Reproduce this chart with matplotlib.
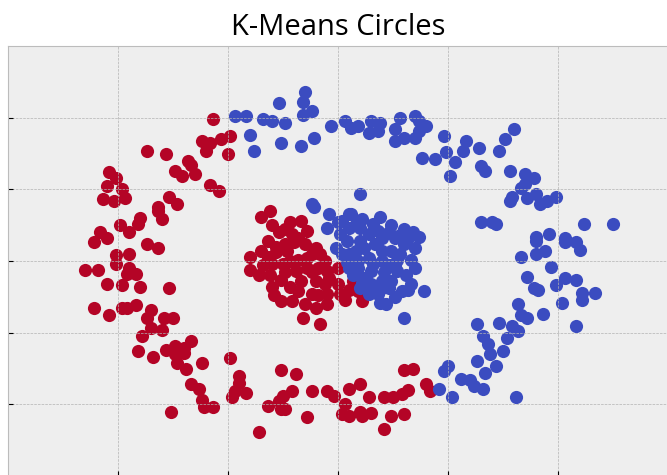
import matplotlib
matplotlib.use("Agg")
import matplotlib.pyplot as plt

plt.style.use("bmh")

# outer ring / inner blob, left cluster (red)
red_x = [-0.57, -0.87, -0.78, -0.68, -0.67, -0.74, -0.71, -0.65, -0.62, -0.60, -0.58,
         -1.04, -1.01, -1.05, -0.98, -0.97, -1.07, -1.02, -0.77, -0.73, -0.82, -0.58,
         -0.53, -0.49, -0.50, -0.54,
         -0.82, -0.80, -0.90, -0.91, -0.99, -0.95, -1.08, -1.05, -1.11, -0.87, -0.82,
         -1.01, -0.95, -1.01, -1.15, -1.09, -0.95, -0.96, -0.92, -1.05, -0.98, -0.90,
         -0.77, -1.11, -1.04, -0.98, -0.92, -0.96, -0.85, -0.87, -0.79, -0.75,
         -0.85, -0.80, -0.89, -0.91, -0.84, -0.78, -0.74, -0.74, -0.70, -0.67, -0.70,
         -0.73, -0.69, -0.62, -0.67, -0.63, -0.62, -0.61, -0.57, -0.76,
         -0.49, -0.45, -0.45, -0.47, -0.48, -0.42, -0.26, -0.19, -0.21, -0.25, -0.27,
         -0.32, -0.26, -0.24, -0.12, -0.05, -0.02, 0.05, 0.03, 0.02, 0.05, -0.14, -0.36,
         0.30, 0.34, 0.10, 0.14, 0.21, 0.25, 0.29, 0.32, 0.40, 0.42, 0.10, 0.15, 0.11,
         0.24, 0.30, 0.21,
         -0.35, -0.31, -0.17, -0.24, -0.27, -0.21, -0.14, -0.32, -0.35, -0.40, -0.28,
         -0.24, -0.20, -0.15, -0.10, -0.08, -0.18, -0.14, -0.30, -0.25, -0.36, -0.31,
         -0.26, -0.19, -0.14, -0.09, -0.05, 0.00, -0.17, -0.10, -0.06, 0.00, -0.18,
         -0.12, -0.05, 0.01, -0.29, -0.21, -0.15, -0.10, -0.16, -0.08,
         0.07, 0.09, 0.11, 0.05, -0.23, -0.34, -0.09,
         -0.30, -0.22, -0.28, -0.18, -0.32, -0.22, -0.06, -0.30, -0.22, -0.12, -0.04,
         -0.24, -0.40, -0.12, -0.26, -0.05, 0.03]
red_y = [0.99, 0.77, 0.75, 0.70, 0.67, 0.63, 0.59, 0.61, 0.84, 0.77, 0.82,
         0.62, 0.58, 0.52, 0.50, 0.44, 0.43, 0.42, 0.45, 0.40, 0.38, 0.53,
         0.85, 0.87, 0.75, 0.49,
         0.35, 0.29, 0.30, 0.26, 0.25, 0.20, 0.20, 0.16, 0.13, 0.12, 0.09,
         0.04, 0.05, -0.02, -0.06, -0.06, -0.05, -0.09, -0.09, -0.16, -0.17, -0.18,
         -0.19, -0.33, -0.38, -0.33, -0.31, -0.33, -0.34, -0.40, -0.40, -0.40,
         -0.47, -0.48, -0.52, -0.63, -0.67, -0.62, -0.59, -0.65, -0.64, -0.56, -0.61,
         -0.71, -0.75, -0.71, -0.86, -0.89, -0.97, -1.02, -1.02, -1.05,
         -0.68, -0.80, -0.85, -0.91, -0.95, -0.92, -0.76, -0.79, -0.91, -0.94, -0.98,
         -1.01, -1.03, -1.03, -0.91, -0.91, -0.94, -0.89, -1.00, -1.07, -1.08, -1.09, -1.19,
         -0.76, -0.75, -0.86, -0.95, -0.95, -0.95, -0.93, -0.90, -0.86, -0.91, -1.05, -1.06, -1.08,
         -1.08, -1.07, -1.17,
         0.31, 0.35, 0.28, 0.22, 0.20, 0.19, 0.21, 0.14, 0.07, 0.03, 0.06,
         0.12, 0.13, 0.12, 0.09, 0.05, 0.01, 0.02, -0.02, -0.02, -0.10, -0.10,
         -0.13, -0.07, -0.05, -0.05, -0.07, -0.05, -0.14, -0.14, -0.16, -0.16, -0.21,
         -0.23, -0.23, -0.23, -0.24, -0.28, -0.30, -0.33, -0.40, -0.44,
         -0.14, -0.21, -0.28, -0.20, 0.07, -0.03, -0.24,
         0.25, 0.27, 0.10, 0.16, 0.03, 0.00, 0.00, -0.18, -0.18, -0.08, -0.12,
         -0.08, -0.06, 0.05, -0.28, -0.30, -0.27]

# right cluster (blue)
blue_x = [-0.47, -0.42, -0.34, -0.30, -0.24, -0.27, -0.15, -0.16, -0.16, -0.12,
          -0.40, -0.38, -0.26, -0.17, -0.11, -0.03, 0.03, 0.06, -0.12,
          0.09, 0.15, 0.19, 0.14, 0.18, 0.26, 0.28, 0.35, 0.37, 0.40, 0.30, 0.26,
          0.35, 0.37, 0.48, 0.49, 0.44, 0.38, 0.53, 0.51, 0.58, 0.57, 0.64, 0.65,
          0.67, 0.10,
          0.80, 0.76, 0.73, 0.78, 0.85, 0.89, 0.85, 0.83, 0.90, 0.99, 0.95, 0.92,
          0.79, 0.78, 0.86,
          0.72, 1.12, 1.25, 0.90, 0.90, 0.96, 1.03, 1.03, 1.08, 1.10, 0.83, 0.90,
          0.94, 0.97, 0.86, 0.89, 0.91, 0.99, 1.03, 1.08, 1.11, 1.11, 1.17, 1.02,
          0.82, 0.83, 0.86, 0.93, 1.08, 0.79,
          0.06, 0.11, 0.19, 0.23, 0.18, 0.30, 0.37, 0.35, 0.30, 0.33, 0.24, 0.17,
          0.10, 0.08, 0.14, 0.20, 0.27, 0.09, 0.15, 0.21, 0.27, 0.31, 0.33, 0.29,
          0.39, 0.23, 0.18, 0.15, 0.19, 0.30, 0.65, 0.70, 0.63,
          0.05, 0.10, 0.14, 0.20, 0.26, 0.32, 0.09, 0.23, 0.12, 0.20, 0.24, 0.14,
          -0.11, -0.04, 0.05, -0.05, 0.01, -0.01, 0.05, 0.05,
          0.50, 0.48, 0.46, 0.52, 0.56, 0.60, 0.62, 0.66, 0.63, 0.66, 0.68, 0.69,
          0.81, 0.75, 0.77, 0.72, 0.67, 0.82, 0.73,
          0.02, 0.08, 0.16, 0.24, 0.28, 0.04, 0.12, 0.20, 0.28, 0.04, 0.16, 0.26,
          0.11, 0.07, 0.20, 0.26, 0.10, 0.22, 0.35, 0.34, 0.00, 0.02, 0.32]
blue_y = [1.01, 1.01, 0.99, 0.98, 0.96, 1.10, 1.18, 1.11, 1.02, 1.05,
          0.88, 0.77, 0.82, 0.80, 0.86, 0.94, 0.98, 0.93, 0.40,
          0.94, 0.98, 0.96, 0.89, 0.91, 0.92, 1.00, 1.01, 0.98, 0.94, 0.86, 0.84,
          0.86, 0.91, 0.87, 0.76, 0.71, 0.72, 0.69, 0.59, 0.84, 0.77, 0.79, 0.66,
          0.63, 0.47,
          0.92, 0.85, 0.77, 0.63, 0.61, 0.58, 0.54, 0.51, 0.47, 0.45, 0.42, 0.40,
          0.45, 0.42, 0.44,
          0.26, 0.26, 0.26, 0.17, 0.14, 0.19, 0.16, 0.13, 0.13, 0.08, 0.03, 0.05,
          0.07, -0.04, -0.11, -0.19, -0.20, -0.17, -0.12, -0.13, -0.22, -0.27, -0.22, -0.29,
          -0.30, -0.38, -0.40, -0.37, -0.45, -0.45,
          0.33, 0.29, 0.31, 0.20, 0.21, 0.22, 0.17, 0.09, 0.12, 0.01, 0.07, 0.12,
          0.14, 0.07, 0.02, 0.00, 0.01, -0.05, -0.07, -0.08, -0.07, -0.10, -0.16, -0.21,
          -0.21, -0.19, -0.23, -0.16, -0.29, -0.40, 0.27, 0.27, -0.44,
          0.23, 0.23, 0.19, 0.16, 0.16, 0.16, 0.00, -0.03, -0.12, -0.14, -0.14, -0.23,
          0.38, 0.33, 0.33, 0.23, 0.19, 0.09, 0.05, -0.05,
          -0.73, -0.77, -0.89, -0.95, -0.82, -0.83, -0.87, -0.89, -0.70, -0.52, -0.58, -0.65,
          -0.95, -0.63, -0.54, -0.73, -0.78, -0.49, -0.43,
          0.28, 0.26, 0.26, 0.25, 0.18, 0.14, 0.09, 0.07, 0.05, -0.01, -0.02, -0.03,
          -0.15, -0.10, -0.19, -0.25, -0.19, -0.30, -0.05, 0.20, 0.27, 0.05, -0.20]

ticks = [-1, -0.5, 0, 0.5, 1]

fig = plt.figure(figsize=(6.67, 4.75), dpi=100)
ax = fig.add_axes([8 / 667, -1 / 475, 660 / 667, 430 / 475])

ax.scatter(red_x, red_y, s=90, color="#b40426", linewidths=0)
ax.scatter(blue_x, blue_y, s=90, color="#3b4cc0", linewidths=0)

ax.set_xlim(-1.5, 1.5)
ax.set_ylim(-1.5, 1.5)
ax.set_xticks(ticks)
ax.set_yticks(ticks)
ax.set_xticklabels([])
ax.set_yticklabels([])
ax.set_title("K-Means Circles", fontsize=21, family="Open Sans", pad=8)

fig.savefig("out.png", dpi=100)
